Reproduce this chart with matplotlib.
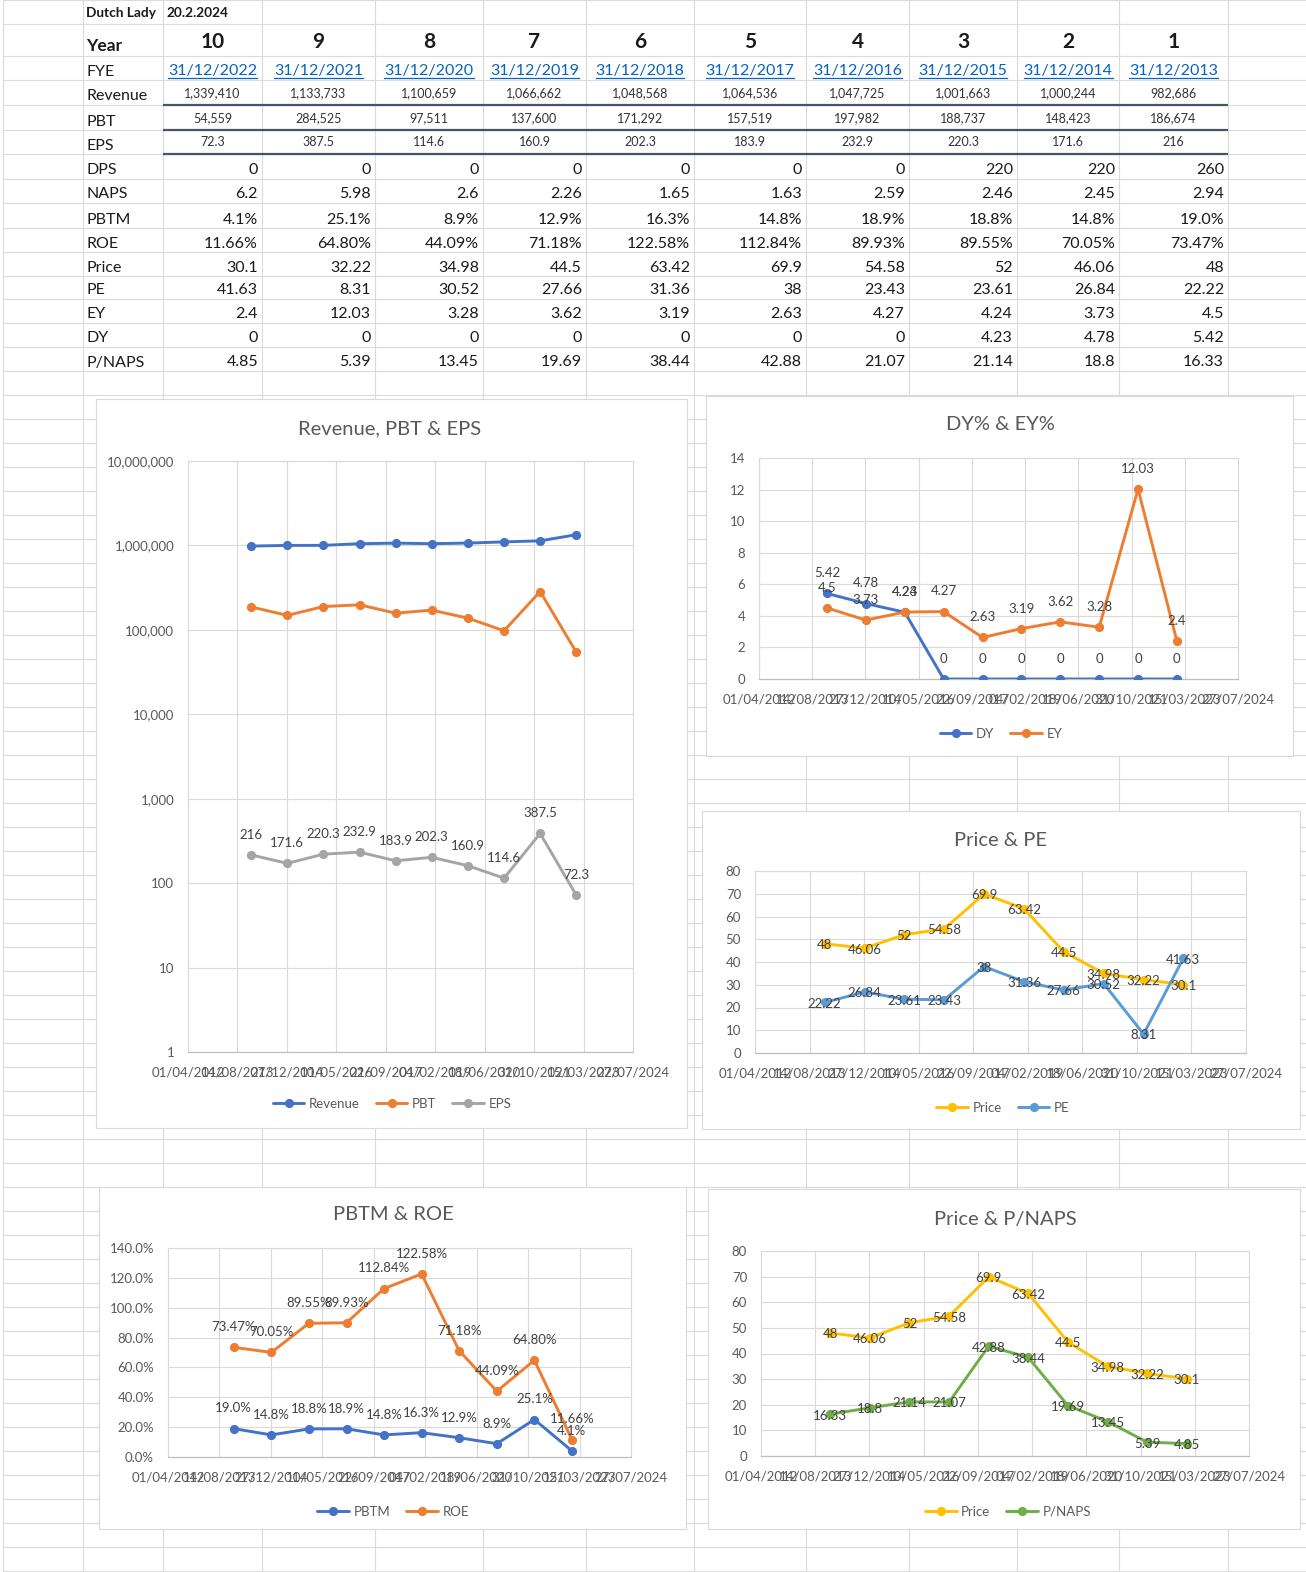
import matplotlib
matplotlib.use("Agg")
import matplotlib.pyplot as plt
from matplotlib.patches import Rectangle
from matplotlib.ticker import FixedLocator, FuncFormatter, NullLocator
import matplotlib.dates as mdates
from datetime import datetime
import numpy as np

plt.rcParams['font.family'] = ['Lato', 'DejaVu Sans']

# ---------------- data ----------------
company = "Dutch Lady"
report_date = "20.2.2024"
year_no = [10, 9, 8, 7, 6, 5, 4, 3, 2, 1]
fye = ["31/12/2022", "31/12/2021", "31/12/2020", "31/12/2019", "31/12/2018",
       "31/12/2017", "31/12/2016", "31/12/2015", "31/12/2014", "31/12/2013"]
revenue = [1339410, 1133733, 1100659, 1066662, 1048568, 1064536, 1047725, 1001663, 1000244, 982686]
pbt = [54559, 284525, 97511, 137600, 171292, 157519, 197982, 188737, 148423, 186674]
eps = [72.3, 387.5, 114.6, 160.9, 202.3, 183.9, 232.9, 220.3, 171.6, 216]
dps = [0, 0, 0, 0, 0, 0, 0, 220, 220, 260]
naps = [6.2, 5.98, 2.6, 2.26, 1.65, 1.63, 2.59, 2.46, 2.45, 2.94]
pbtm = [4.1, 25.1, 8.9, 12.9, 16.3, 14.8, 18.9, 18.8, 14.8, 19.0]
roe = [11.66, 64.80, 44.09, 71.18, 122.58, 112.84, 89.93, 89.55, 70.05, 73.47]
price = [30.1, 32.22, 34.98, 44.5, 63.42, 69.9, 54.58, 52, 46.06, 48]
pe = [41.63, 8.31, 30.52, 27.66, 31.36, 38, 23.43, 23.61, 26.84, 22.22]
ey = [2.4, 12.03, 3.28, 3.62, 3.19, 2.63, 4.27, 4.24, 3.73, 4.5]
dy = [0, 0, 0, 0, 0, 0, 0, 4.23, 4.78, 5.42]
p_naps = [4.85, 5.39, 13.45, 19.69, 38.44, 42.88, 21.07, 21.14, 18.8, 16.33]
date_ticks = ["01/04/2012", "14/08/2013", "27/12/2014", "10/05/2016", "22/09/2017",
              "04/02/2019", "18/06/2020", "31/10/2021", "15/03/2023", "27/07/2024"]

# ---------------- layout ----------------
W, H = 1306, 1572
fig = plt.figure(figsize=(W / 100, H / 100), dpi=100)
bg = fig.add_axes([0, 0, 1, 1], zorder=0)
bg.set_xlim(0, W)
bg.set_ylim(H, 0)
bg.axis('off')

GRID = '#DADADA'
TXT = '#1A1A1A'
LINK = '#0563C1'
col_x = [3, 83, 163, 262, 375, 483, 586, 694, 806, 909, 1017, 1119, 1228]
tb = [0, 24, 56, 80, 105, 130, 154, 179, 203, 228, 252, 276, 299, 323, 347, 371]
row_y = tb + list(np.arange(395, H + 1, 24))
bg.vlines(col_x, 0, H, colors=GRID, lw=0.8)
bg.hlines(row_y, 3, W, colors=GRID, lw=0.8)
bg.hlines([tb[4], tb[5], tb[6]], col_x[2], col_x[-1], colors='#44546A', lw=1.6)

label_x = 86.5
bg.text(label_x, 17, company, fontsize=9.8, fontweight='bold', color=TXT, va='baseline')
bg.text(166, 17, report_date, fontsize=9.8, fontweight='bold', color=TXT, va='baseline')
bg.text(label_x, tb[2] - 5.3, "Year", fontsize=12.5, fontweight='bold', color=TXT, va='baseline')
bg.text(label_x, tb[3] - 4.5, "FYE", fontsize=11.5, color=TXT, va='baseline')

date_texts = []
for i in range(10):
    l, r = col_x[2 + i], col_x[3 + i]
    c = (l + r) / 2
    bg.text(c, tb[2] - 7.7, str(year_no[i]), ha='center', va='baseline',
            fontsize=15, fontweight='bold', color=TXT)
    date_texts.append(bg.text(c, tb[3] - 4.5, fye[i], ha='center', va='baseline',
                              fontsize=11.5, color=LINK))

small_rows = [("Revenue", [f"{v:,}" for v in revenue]),
              ("PBT", [f"{v:,}" for v in pbt]),
              ("EPS", [f"{v:g}" for v in eps])]
for k, (lab, vals) in enumerate(small_rows):
    rb = tb[4 + k]
    bg.text(label_x, rb - 4.5, lab, fontsize=11.5, color=TXT, va='baseline')
    for i in range(10):
        c = (col_x[2 + i] + col_x[3 + i]) / 2
        bg.text(c, rb - 7.5, vals[i], ha='center', va='baseline', fontsize=9.0, color='#333333')

big_rows = [("DPS", [f"{v:g}" for v in dps]),
            ("NAPS", [f"{v:g}" for v in naps]),
            ("PBTM", [f"{v:.1f}%" for v in pbtm]),
            ("ROE", [f"{v:.2f}%" for v in roe]),
            ("Price", [f"{v:g}" for v in price]),
            ("PE", [f"{v:g}" for v in pe]),
            ("EY", [f"{v:g}" for v in ey]),
            ("DY", [f"{v:g}" for v in dy]),
            ("P/NAPS", [f"{v:g}" for v in p_naps])]
for k, (lab, vals) in enumerate(big_rows):
    rb = tb[7 + k]
    bg.text(label_x, rb - 4.5, lab, fontsize=11.5, color=TXT, va='baseline')
    for i in range(10):
        bg.text(col_x[3 + i] - 4, rb - 4.5, vals[i], ha='right', va='baseline',
                fontsize=11.5, color=TXT)

# underline the hyperlink dates
fig.canvas.draw()
rend = fig.canvas.get_renderer()
for t in date_texts:
    bb = t.get_window_extent(rend)
    bg.plot([bb.x0, bb.x1], [77.5, 77.5], color=LINK, lw=0.9)

# ---------------- charts ----------------
dates = [datetime.strptime(s, "%d/%m/%Y") for s in fye]
tick_dates = [datetime.strptime(s, "%d/%m/%Y") for s in date_ticks]
tick_nums = mdates.date2num(tick_dates)


def fpx(x0, y0, x1, y1):
    return [x0 / W, 1 - y1 / H, (x1 - x0) / W, (y1 - y0) / H]


def chart(panel, box, title, title_xy, legend_xy, series, ylim, yticks, yfmt, log=False):
    px0, py0, px1, py1 = panel
    bg.add_patch(Rectangle((px0, py0), px1 - px0, py1 - py0, facecolor='white',
                           edgecolor='#D9D9D9', lw=0.8, zorder=3))
    ax = fig.add_axes(fpx(*box), zorder=2)
    if log:
        ax.set_yscale('log')
    ax.set_xlim(tick_nums[0], tick_nums[-1])
    ax.set_ylim(*ylim)
    ax.set_xticks(tick_nums)
    ax.set_xticklabels(date_ticks)
    ax.yaxis.set_major_locator(FixedLocator(yticks))
    ax.yaxis.set_major_formatter(FuncFormatter(yfmt))
    ax.yaxis.set_minor_locator(NullLocator())
    ax.xaxis.set_minor_locator(NullLocator())
    ax.grid(True, color='#D9D9D9', lw=0.8)
    ax.set_axisbelow(True)
    ax.tick_params(axis='both', length=0, labelsize=9.5, labelcolor='#595959')
    ax.tick_params(axis='y', pad=10)
    ax.tick_params(axis='x', pad=10.5)
    for s in ['top', 'right', 'left']:
        ax.spines[s].set_color('#D9D9D9')
        ax.spines[s].set_linewidth(0.8)
    ax.spines['bottom'].set_color('#BFBFBF')
    ax.spines['bottom'].set_linewidth(0.9)
    handles = []
    for name, vals, color, labfmt, mode in series:
        h, = ax.plot(dates, vals, color=color, lw=2.1, marker='o', ms=5.6,
                     solid_joinstyle='round', solid_capstyle='round', label=name, zorder=3)
        handles.append(h)
    for name, vals, color, labfmt, mode in series:
        if mode is None:
            continue
        off = (0, 14.5) if mode == 'above' else (0, -1)
        for d, v in zip(dates, vals):
            ax.annotate(labfmt(v), (mdates.date2num(d), v), xytext=off, textcoords='offset points',
                        ha='center', va='center', fontsize=9.5, color='#404040', zorder=5,
                        annotation_clip=False)
    tx, ty = title_xy
    fig.text(tx / W, 1 - ty / H, title, ha='center', va='center', fontsize=14.5,
             color='#595959', zorder=4)
    lx, ly = legend_xy
    ax.legend(handles=handles, loc='center', bbox_to_anchor=(lx / W, 1 - ly / H),
              bbox_transform=fig.transFigure, ncol=len(handles), frameon=False,
              fontsize=9.5, handlelength=2.4, handletextpad=0.35, columnspacing=1.2,
              labelcolor='#595959')
    return ax


g = lambda v: f"{v:g}"
chart((96, 399, 687, 1128), (188, 461, 633, 1052), "Revenue, PBT & EPS", (390, 429), (392, 1104),
      [("Revenue", revenue, '#4472C4', g, None),
       ("PBT", pbt, '#ED7D31', g, None),
       ("EPS", eps, '#A5A5A5', g, 'above')],
      (1, 1e7), [1, 10, 100, 1000, 10000, 100000, 1000000, 10000000],
      lambda v, p: f"{v:,.0f}", log=True)

chart((706, 396, 1293, 756), (759, 458, 1238, 679), "DY% & EY%", (1000, 425), (1001, 734),
      [("DY", dy, '#4472C4', g, 'above'),
       ("EY", ey, '#ED7D31', g, 'above')],
      (0, 14), list(range(0, 15, 2)), lambda v, p: f"{v:g}")

chart((702, 811, 1300, 1129), (755, 871, 1246, 1053), "Price & PE", (1001, 840), (1003, 1108),
      [("Price", price, '#FFC000', g, 'center'),
       ("PE", pe, '#5B9BD5', g, 'center')],
      (0, 80), list(range(0, 81, 10)), lambda v, p: f"{v:g}")

chart((99, 1187, 686, 1529), (168, 1248, 631, 1457), "PBTM & ROE", (393, 1215), (393, 1512),
      [("PBTM", pbtm, '#4472C4', lambda v: f"{v:.1f}%", 'above'),
       ("ROE", roe, '#ED7D31', lambda v: f"{v:.2f}%", 'above')],
      (0, 140), list(range(0, 141, 20)), lambda v, p: f"{v:.1f}%")

chart((708, 1189, 1300, 1529), (761, 1251, 1249, 1456), "Price & P/NAPS", (1005, 1219), (1008, 1512),
      [("Price", price, '#FFC000', g, 'center'),
       ("P/NAPS", p_naps, '#70AD47', g, 'center')],
      (0, 80), list(range(0, 81, 10)), lambda v, p: f"{v:g}")

fig.savefig("out.png", dpi=100)
